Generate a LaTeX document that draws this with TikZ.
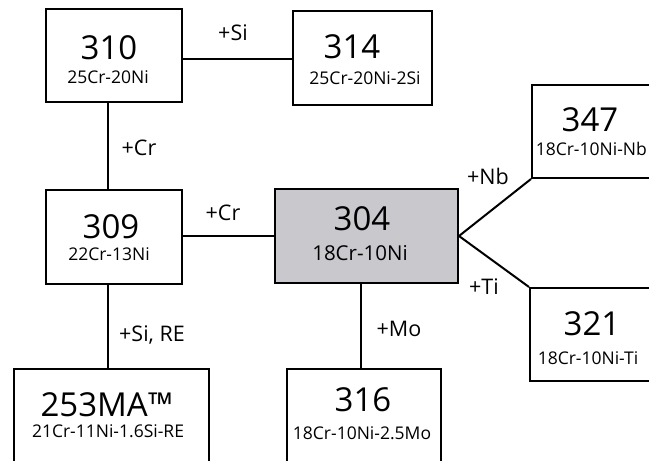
\documentclass[tikz,border=0pt]{standalone}
\usepackage{fontspec}
\setmainfont{Open Sans}
\definecolor{boxgray}{RGB}{201,200,205}
\tikzset{
  box/.style={draw=black, line width=2pt, inner sep=0pt, fill=white},
  num/.style={inner sep=0pt, font=\fontsize{33}{33}\selectfont},
  sub/.style={inner sep=0pt, font=\fontsize{17.5}{17.5}\selectfont},
  subbig/.style={inner sep=0pt, font=\fontsize{20.5}{20.5}\selectfont},
  lab/.style={inner sep=0pt, font=\fontsize{21.5}{21.5}\selectfont},
  link/.style={draw=black, line width=2pt}
}
\begin{document}
\begin{tikzpicture}[x=1pt,y=-1pt]
\useasboundingbox (0,0) rectangle (649,461);
\clip (0,0) rectangle (649,461);
% boxes
\node[box, minimum width=136pt, minimum height=93pt] (b310) at (114,55.5) {};
\node[box, minimum width=139pt, minimum height=94pt] (b314) at (362.5,58) {};
\node[box, minimum width=136pt, minimum height=94pt] (b309) at (114,237) {};
\node[box, fill=boxgray, minimum width=183pt, minimum height=94pt] (b304) at (366.5,236) {};
\node[box, minimum width=170pt, minimum height=93pt] (b347) at (617,131.5) {};
\node[box, minimum width=170pt, minimum height=93pt] (b321) at (615,334.5) {};
\node[box, minimum width=154pt, minimum height=101pt] (b316) at (364,419.5) {};
\node[box, minimum width=195pt, minimum height=101pt] (b253) at (111.5,419.5) {};
% texts
\node[num] (t310) at (109,48) {310};
\node[sub] (s310) at (108,77) {25Cr-20Ni};
\node[num] (t314) at (352,47) {314};
\node[sub] (s314) at (365,78) {25Cr-20Ni-2Si};
\node[num] (t309) at (111,227) {309};
\node[sub] (s309) at (109,254) {22Cr-13Ni};
\node[num] (t304) at (362,219) {304};
\node[subbig] (s304) at (360,253) {18Cr-10Ni};
\node[num] (t347) at (590,120) {347};
\node[sub, anchor=east] (s347) at (647,149) {18Cr-10Ni-Nb};
\node[num] (t321) at (592,324) {321};
\node[sub] (s321) at (588,358) {18Cr-10Ni-Ti};
\node[num] (t316) at (363,400) {316};
\node[sub] (s316) at (362,433) {18Cr-10Ni-2.5Mo};
\node[num] (t253) at (107,405) {253MA™};
\node[sub] (s253) at (108,431) {21Cr-11Ni-1.6Si-RE};
% connectors
\coordinate (x108) at (108,0);
\coordinate (x361) at (361,0);
\draw[link] (b310.east |- 0,59) -- (b314.west |- 0,59);
\draw[link] (b310.south -| x108) -- (b309.north -| x108);
\draw[link] (b309.east |- b304) -- (b304.west);
\draw[link] (b309.south -| x108) -- (b253.north -| x108);
\draw[link] (b304.south -| x361) -- (b316.north -| x361);
\draw[link] (b304.east) -- (b347.south west);
\draw[link] (b304.east) -- (b321.north west);
% labels
\node[lab] (lsi) at (233,33) {+Si};
\node[lab] (lcr1) at (139,148) {+Cr};
\node[lab] (lcr2) at (223,213) {+Cr};
\node[lab] (lsire) at (152,335) {+Si, RE};
\node[lab] (lmo) at (399,329) {+Mo};
\node[lab] (lnb) at (488,176) {+Nb};
\node[lab] (lti) at (484,287) {+Ti};
\end{tikzpicture}
\end{document}
